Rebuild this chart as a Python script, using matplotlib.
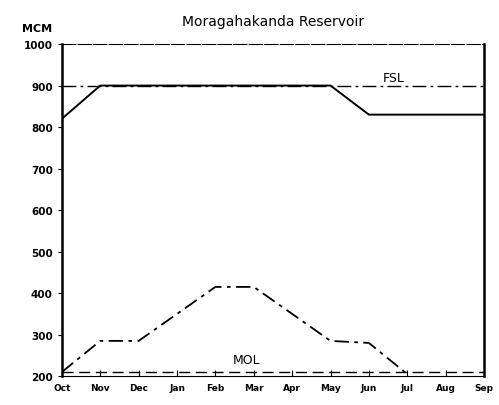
import matplotlib.pyplot as plt

# Monthly values, water year Oct -> Sep
months = ["Oct", "Nov", "Dec", "Jan", "Feb", "Mar", "Apr", "May", "Jun", "Jul", "Aug", "Sep"]
upper_rule = [820, 900, 900, 900, 900, 900, 900, 900, 830, 830, 830, 830]
lower_rule = [210, 285, 285, 350, 415, 415, 350, 285, 280, 205]
fsl = 900
mol = 210

x = list(range(len(months)))

fig = plt.figure(figsize=(4.99, 4.06), dpi=100)
ax = fig.add_axes([0.124, 0.071, 0.846, 0.818])

ax.plot(x, upper_rule, color="black", lw=1.4)
ax.plot(x[:len(lower_rule)], lower_rule, color="black", lw=1.3, dashes=(8, 3, 2, 3))
ax.axhline(fsl, color="black", lw=1.0, dashes=(10, 3, 2, 3))
ax.axhline(mol, color="black", lw=1.0, dashes=(8, 4))

ax.text(8.35, 912, "FSL", fontsize=9)
ax.text(4.45, 232, "MOL", fontsize=9)

ax.set_xlim(0, 11)
ax.set_ylim(200, 1000)
ax.set_xticks(x)
ax.set_xticklabels(months, fontsize=6.5, fontweight="bold")
ax.set_yticks(range(200, 1001, 100))
ax.set_yticklabels([str(v) for v in range(200, 1001, 100)], fontsize=7.5, fontweight="bold")
ax.tick_params(axis="x", direction="in", length=4, pad=5)
ax.tick_params(axis="y", direction="out", length=3)

ax.spines["left"].set_linewidth(1.8)
ax.spines["right"].set_linewidth(1.8)
ax.spines["top"].set_linewidth(0.8)
ax.spines["top"].set_linestyle((0, (12, 2)))
ax.spines["bottom"].set_linewidth(0.8)

ax.set_title("Moragahakanda Reservoir", fontsize=10, pad=14)
fig.text(0.045, 0.92, "MCM", fontsize=8, fontweight="bold")

fig.savefig("out.png", dpi=100)
